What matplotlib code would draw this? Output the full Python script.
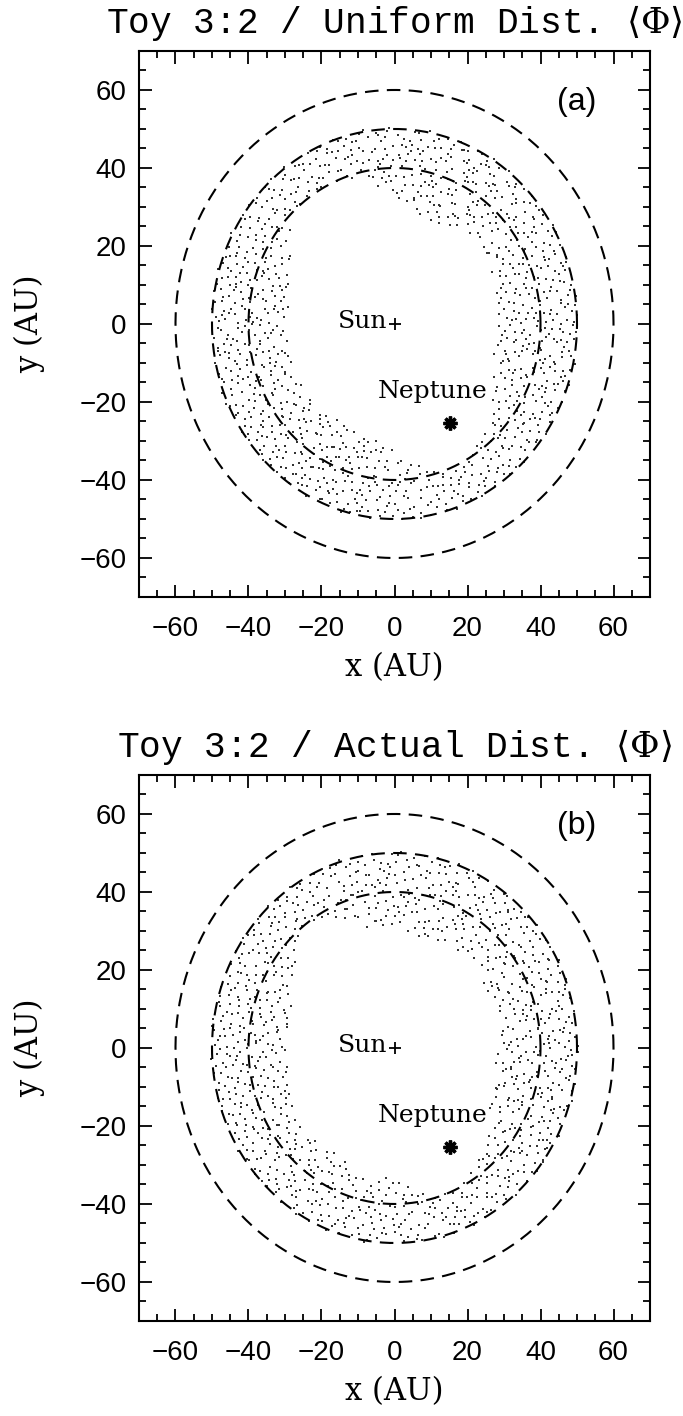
import numpy as np
import matplotlib
matplotlib.use("Agg")
import matplotlib.pyplot as plt
from matplotlib.ticker import MultipleLocator

plt.rcParams['mathtext.fontset'] = 'dejavuserif'

# reference orbits (AU)
circle_radii = [40, 50, 60]
neptune_xy = (15.2, -25.4)

# particle band, read in 15-degree sectors starting at 0 deg (+x axis), counter-clockwise
sector_angles = np.arange(0, 360, 15)
band_outer = 50.5

# panel (a): uniform libration-phase distribution
inner_a = [28, 29, 30, 31, 29, 28, 32, 39, 40, 39, 33, 29,
           30, 29, 30, 30, 29, 29, 32, 39, 40, 36, 31, 28]
count_a = [60, 55, 50, 45, 55, 55, 45, 32, 28, 30, 42, 58,
           55, 55, 50, 55, 58, 55, 42, 32, 30, 38, 50, 58]

# panel (b): actual libration-phase distribution
inner_b = [28, 30, 29, 31, 30, 29, 30, 32, 39, 37, 32, 29,
           30, 29, 32, 32, 31, 34, 33, 39, 39, 35, 30, 28]
count_b = [58, 52, 52, 46, 48, 50, 48, 42, 32, 35, 45, 55,
           55, 55, 48, 48, 48, 42, 42, 32, 32, 40, 52, 58]

titles = [r'Toy 3:2 / Uniform Dist. $\langle\Phi\rangle$',
          r'Toy 3:2 / Actual Dist. $\langle\Phi\rangle$']
tags = ['(a)', '(b)']


def vdc(n, base):
    # van der Corput sequence, used to spread dots inside each sector
    out = np.zeros(len(n))
    n = n.copy()
    f = 1.0 / base
    while np.any(n > 0):
        out += f * (n % base)
        n //= base
        f /= base
    return out


def band_points(inner, counts, offset):
    xs, ys = [], []
    idx = offset
    ang_c = np.append(sector_angles, 360)
    rin_c = np.append(inner, inner[0])
    for a0, n in zip(sector_angles, counts):
        k = np.arange(idx, idx + n)
        idx += n
        th = a0 - 7.5 + 15 * vdc(k, 2)
        rin = np.interp(th % 360, ang_c, rin_c)
        r = np.sqrt(rin**2 + vdc(k, 3) * (band_outer**2 - rin**2))
        xs.append(r * np.cos(np.radians(th)))
        ys.append(r * np.sin(np.radians(th)))
    return np.concatenate(xs), np.concatenate(ys)


fig = plt.figure(figsize=(6.83, 14.16), dpi=100)
axes = [fig.add_axes([0.2035, 0.5784, 0.7482, 0.3856]),
        fig.add_axes([0.2035, 0.0671, 0.7482, 0.3856])]

t = np.linspace(0, 2 * np.pi, 500)
for ax, inner, counts, title, tag, off in zip(axes, [inner_a, inner_b], [count_a, count_b],
                                             titles, tags, [17, 4001]):
    px, py = band_points(inner, counts, off)
    ax.scatter(px, py, s=0.9, marker='s', c='#333333', linewidths=0)

    for rr in circle_radii:
        ax.plot(rr * np.cos(t), rr * np.sin(t), color='black', lw=1.5,
                linestyle=(0, (6.5, 4)))

    ax.plot(0, 0, marker='+', color='black', ms=9, mew=1.3)
    ax.plot(*neptune_xy, marker=(8, 2, 0), color='black', ms=10, mew=2.4)
    ax.text(-15.5, -1, 'Sun', family='DejaVu Serif', fontsize=18, va='baseline')
    ax.text(-4.5, -19, 'Neptune', family='DejaVu Serif', fontsize=18, va='baseline')
    ax.text(50, 57, tag, family='Liberation Sans', fontsize=23, ha='center', va='center')

    ax.set_xlim(-70, 70)
    ax.set_ylim(-70, 70)
    ax.xaxis.set_major_locator(MultipleLocator(20))
    ax.yaxis.set_major_locator(MultipleLocator(20))
    ax.xaxis.set_minor_locator(MultipleLocator(5))
    ax.yaxis.set_minor_locator(MultipleLocator(5))
    ax.tick_params(which='both', direction='in', top=True, right=True, width=1.3)
    ax.tick_params(which='major', length=9)
    ax.tick_params(which='minor', length=5)
    ax.tick_params(axis='x', pad=14)
    ax.tick_params(axis='y', pad=9)
    for lab in ax.get_xticklabels() + ax.get_yticklabels():
        lab.set_family('Liberation Sans')
        lab.set_fontsize(20)
    for sp in ax.spines.values():
        sp.set_linewidth(1.5)

    ax.set_xlabel('x (AU)', family='DejaVu Serif', fontsize=22)
    ax.xaxis.label.set_va('center')
    ax.xaxis.set_label_coords(0.5, -0.13)
    ax.set_ylabel('y (AU)', family='DejaVu Serif', fontsize=22)
    ax.yaxis.label.set_va('center')
    ax.yaxis.set_label_coords(-0.215, 0.5)
    ax.set_title(title, family='Liberation Mono', fontsize=26, pad=13)

fig.savefig('out.png', dpi=100)
